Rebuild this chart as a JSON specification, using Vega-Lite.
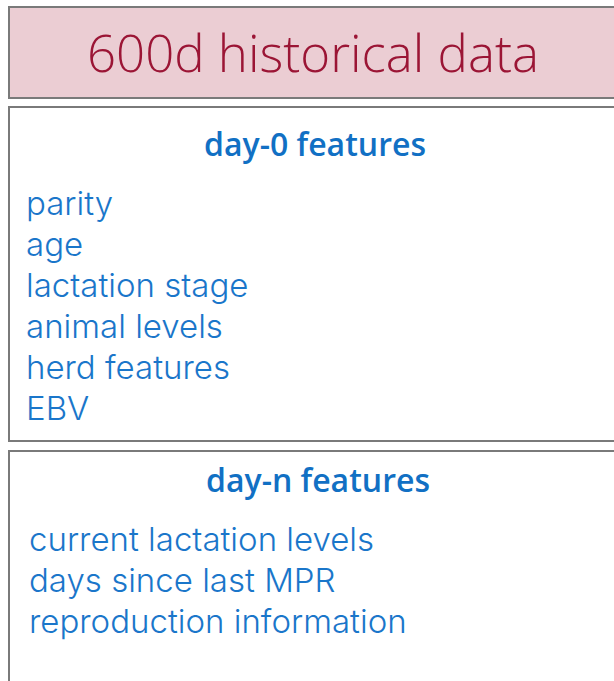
{
  "$schema": "https://vega.github.io/schema/vega-lite/v6.json",
  "width": 614,
  "height": 681,
  "padding": 0,
  "autosize": {"type": "fit", "contains": "padding"},
  "background": "white",
  "config": {"view": {"stroke": null}},
  "datasets": {
    "boxes": [
      {"box": "history", "x0": 9, "x1": 640, "y0": 7, "y1": 98, "fill": "#ebcdd3"},
      {"box": "day0", "x0": 9, "x1": 640, "y0": 107, "y1": 441, "fill": "#ffffff"},
      {"box": "dayn", "x0": 9, "x1": 640, "y0": 451, "y1": 720, "fill": "#ffffff"}
    ],
    "titles": [
      {"label": "600d historical data", "x": 313, "y": 72, "kind": "main"}
    ],
    "headers": [
      {"label": "day-0 features", "x": 315, "y": 156},
      {"label": "day-n features", "x": 318, "y": 492}
    ],
    "items": [
      {"label": "parity", "x": 26, "y": 215},
      {"label": "age", "x": 26, "y": 256},
      {"label": "lactation stage", "x": 26, "y": 297},
      {"label": "animal levels", "x": 26, "y": 338},
      {"label": "herd features", "x": 26, "y": 379},
      {"label": "EBV", "x": 26, "y": 420},
      {"label": "current lactation levels", "x": 29, "y": 551},
      {"label": "days since last MPR", "x": 29, "y": 592},
      {"label": "reproduction information", "x": 29, "y": 633}
    ]
  },
  "layer": [
    {
      "data": {"name": "boxes"},
      "mark": {"type": "rect", "stroke": "#7a7a7a", "strokeWidth": 2, "clip": true},
      "encoding": {
        "x": {"field": "x0", "type": "quantitative", "scale": {"domain": [0, 614], "nice": false, "zero": false}, "axis": null},
        "x2": {"field": "x1"},
        "y": {"field": "y0", "type": "quantitative", "scale": {"domain": [681, 0], "nice": false, "zero": false}, "axis": null},
        "y2": {"field": "y1"},
        "fill": {"field": "fill", "type": "nominal", "scale": null}
      }
    },
    {
      "data": {"name": "titles"},
      "mark": {"type": "text", "align": "center", "baseline": "alphabetic", "font": "Open Sans", "fontWeight": 300, "fontSize": 51, "color": "#9b1535"},
      "encoding": {
        "x": {"field": "x", "type": "quantitative"},
        "y": {"field": "y", "type": "quantitative"},
        "text": {"field": "label"}
      }
    },
    {
      "data": {"name": "headers"},
      "mark": {"type": "text", "align": "center", "baseline": "alphabetic", "font": "Open Sans", "fontWeight": 600, "fontSize": 32, "color": "#1170c4"},
      "encoding": {
        "x": {"field": "x", "type": "quantitative"},
        "y": {"field": "y", "type": "quantitative"},
        "text": {"field": "label"}
      }
    },
    {
      "data": {"name": "items"},
      "mark": {"type": "text", "align": "left", "baseline": "alphabetic", "font": "Inter", "fontWeight": 300, "fontSize": 33, "color": "#1a76ca"},
      "encoding": {
        "x": {"field": "x", "type": "quantitative"},
        "y": {"field": "y", "type": "quantitative"},
        "text": {"field": "label"}
      }
    }
  ]
}
